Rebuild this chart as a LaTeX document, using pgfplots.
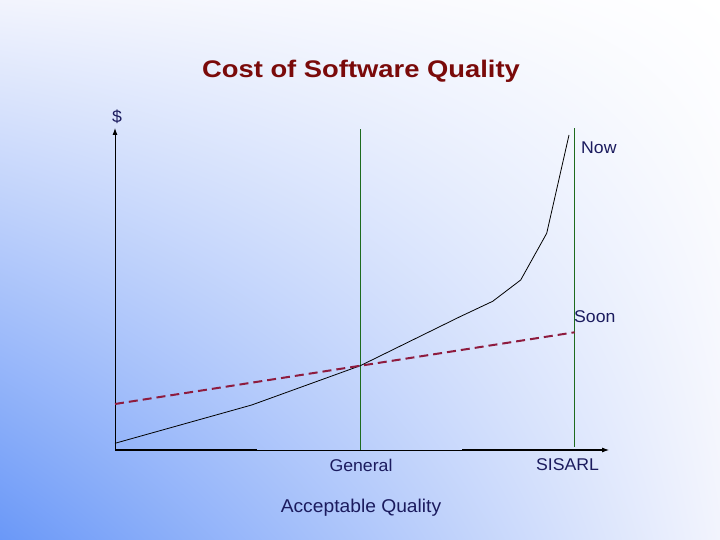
\documentclass[border=0pt]{standalone}
\usepackage{fontspec}
\setmainfont{Liberation Sans}[FakeStretch=1.04]
\newfontfamily\titlefont{Liberation Sans}[FakeStretch=1.14]
\usepackage{pgfplots}
\pgfplotsset{compat=1.18}
\usetikzlibrary{arrows.meta,shadings}

\definecolor{bgblue}{HTML}{6A98F8}
\definecolor{bgmid}{HTML}{F2F4FD}
\definecolor{titlered}{HTML}{7A0A0A}
\definecolor{navy}{HTML}{1B1B5E}
\definecolor{dashred}{HTML}{8E1B3E}
\definecolor{vgreen}{HTML}{1E6B1E}

\begin{document}
\begin{tikzpicture}[x=1pt,y=1pt]
% slide background
\shade[lower left=bgblue, upper left=bgmid, lower right=bgmid, upper right=white]
  (0,0) rectangle (720,540);
\useasboundingbox (0,0) rectangle (720,540);

\begin{axis}[
  at={(115,90)}, anchor=south west,
  x=1pt, y=1pt,
  xmin=0, xmax=494, ymin=0, ymax=322,
  enlargelimits=false, clip=false,
  axis lines=left,
  axis line style={line width=0.9pt, -{Latex[length=7pt,width=5pt]}},
  xtick=\empty, ytick=\empty,
]
% heavier pieces of the x axis
\addplot[black, line width=2.2pt] coordinates {(0,0) (142,0)};
\addplot[black, line width=2.2pt] coordinates {(347,0) (488,0)};
% General / SISARL markers
\addplot[vgreen, line width=0.9pt] coordinates {(245.3,0) (245.3,321)};
\addplot[vgreen, line width=0.9pt] coordinates {(459.7,3) (459.7,322)};
% Now
\addplot[black, line width=0.8pt] coordinates {
  (0,6.7) (136.7,45) (245.3,84.3) (345,133.3) (377.7,148.7)
  (405.7,170) (431.7,216.7) (454,315)
};
% Soon
\addplot[dashred, line width=2pt, dash pattern=on 9pt off 5pt] coordinates {
  (0,46) (459.7,117.7)
};
\end{axis}

\node[anchor=base, text=titlered, font=\titlefont\bfseries\fontsize{24}{28}\selectfont]
  at (361,462.7) {Cost of Software Quality};
\begin{scope}[every node/.style={text=navy, inner sep=0pt, font=\fontsize{17}{20}\selectfont}]
\node[anchor=base] at (117,417.5) {\$};
\node[anchor=base west] at (581,386) {Now};
\node[anchor=base west] at (574,217.3) {Soon};
\node[anchor=base] at (361,68.3) {General};
\node[anchor=base] at (567.5,69.3) {SISARL};
\node[anchor=base, font=\fontsize{18.5}{22}\selectfont] at (361,27.7) {Acceptable Quality};
\end{scope}
\end{tikzpicture}
\end{document}
